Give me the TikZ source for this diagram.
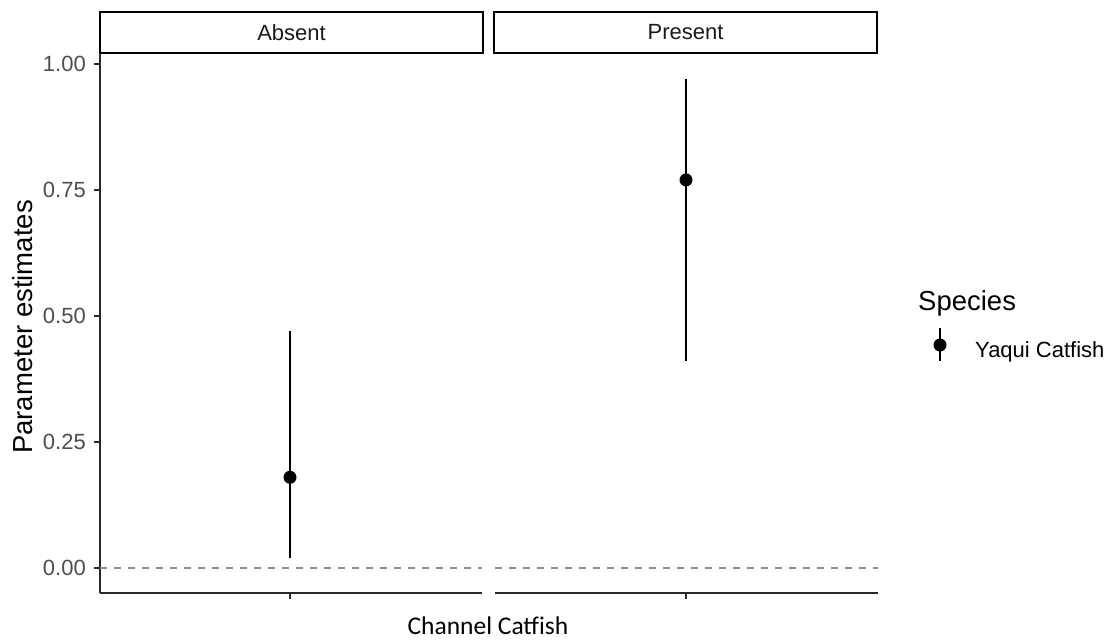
\documentclass[tikz,border=0pt]{standalone}
\usepackage{fontspec}
\setmainfont{Liberation Sans}
\newfontfamily\carlito{Carlito}
\usetikzlibrary{positioning}
\definecolor{tickGray}{RGB}{77, 77, 77}
\definecolor{stripInk}{RGB}{26, 26, 26}
\definecolor{axisInk}{RGB}{40, 40, 40}
\definecolor{refGray}{RGB}{140, 140, 140}

\begin{document}
\begin{tikzpicture}[
    x=1pt, y=-1pt,
    strip/.style={
        rectangle,
        draw=black,
        line width=2pt,
        minimum width=383pt,
        minimum height=41pt,
        inner sep=0pt,
        text=stripInk,
        font=\fontsize{22}{24}\selectfont
    },
    estimate/.style={circle, fill=black, inner sep=0pt, minimum size=13pt},
    errbar/.style={line width=1.4pt},
    axisline/.style={line width=1.5pt, axisInk},
    ticklabel/.style={anchor=east, inner sep=0pt, text=tickGray, font=\fontsize{22}{24}\selectfont},
    reference/.style={line width=1.3pt, refGray, dash pattern=on 7pt off 7pt}
]
    % Canvas
    \useasboundingbox (0,0) rectangle (1120,643);

    % Facet strips
    \node[strip] (absent) at (291.5,32.5) {Absent};
    \node[strip] (present) at (685.5,32.5) {Present};

    % Axes
    \coordinate (yTop) at (100,53);
    \coordinate (origin) at (100,593);
    \coordinate (absEnd) at (482,593);
    \coordinate (preStart) at (495,593);
    \coordinate (preEnd) at (878,593);
    \draw[axisline] (yTop) -- (origin);
    \draw[axisline] (origin) -- (absEnd);
    \draw[axisline] (preStart) -- (preEnd);
    \draw[axisline] (290,593) -- (290,599);
    \draw[axisline] (686,593) -- (686,599);

    % Y ticks
    \foreach \v/\lab in {0/0.00, 0.25/0.25, 0.5/0.50, 0.75/0.75, 1/1.00} {
        \draw[axisline] (94,{568-504*\v}) -- (100,{568-504*\v});
        \node[ticklabel] at (86,{568-504*\v}) {\lab};
    }

    % Zero line
    \draw[reference] (100,568) -- (482,568);
    \draw[reference] (495,568) -- (878,568);

    % Estimates
    \coordinate (absHi) at (290,{568-504*0.47});
    \coordinate (absLo) at (290,{568-504*0.02});
    \draw[errbar] (absLo) -- (absHi);
    \node[estimate] (absEst) at (290,{568-504*0.18}) {};

    \coordinate (preHi) at (686,{568-504*0.97});
    \coordinate (preLo) at (686,{568-504*0.41});
    \draw[errbar] (preLo) -- (preHi);
    \node[estimate] (preEst) at (686,{568-504*0.77}) {};

    % Axis titles
    \node[rotate=90, anchor=base, font=\fontsize{27.5}{30}\selectfont] (ytitle) at (32,327) {Parameter estimates};
    \node[anchor=base, font=\carlito\fontsize{25.5}{28}\selectfont] (xtitle) at (488,634) {Channel Catfish};

    % Legend
    \node[anchor=base west, inner sep=0pt, font=\fontsize{27.5}{30}\selectfont] (legTitle) at (918,310) {Species};
    \coordinate (keyTop) at (940,328);
    \coordinate (keyBot) at (940,361);
    \draw[errbar] (keyBot) -- (keyTop);
    \node[estimate] (keyDot) at (940,345) {};
    \node[anchor=base west, inner sep=0pt, font=\fontsize{22}{24}\selectfont] (keyLabel) at (975,357) {Yaqui Catfish};

\end{tikzpicture}
\end{document}
